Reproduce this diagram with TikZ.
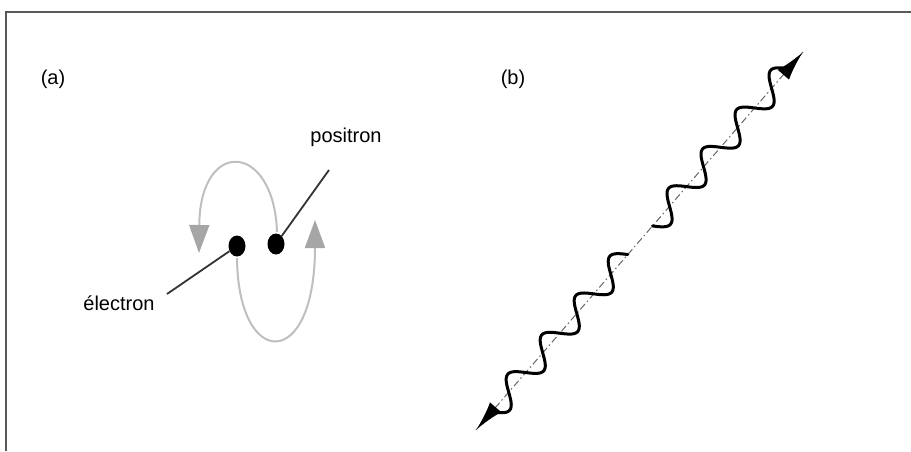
\documentclass[tikz,border=0pt]{standalone}
\usepackage{fontspec}
\setmainfont{Liberation Sans}
\usetikzlibrary{arrows.meta, shapes.geometric, calc, positioning}
\tikzset{
    particle/.style={ellipse, fill=black, inner sep=0pt, minimum width=17pt, minimum height=21pt},
    lbl/.style={inner sep=0pt, font=\fontsize{20}{24}\selectfont},
    pointer/.style={draw=black!80, line width=1.8pt},
    orbitArrow/.style={draw=black!25, line width=2pt, -{Triangle[length=28pt, width=20pt, color=black!35]}},
    photonAxis/.style={draw=black!60, line width=1pt, dash pattern=on 7pt off 3pt on 1.5pt off 3pt},
    photonWave/.style={line width=3pt, line join=round, line cap=round},
    photonTip/.style={line width=3pt, -{Latex[length=30pt, width=15pt]}},
    frameLine/.style={draw=black!65, line width=2pt},
}
% four wavelengths of sine along the photon axis, starting at #1
\newcommand{\drawWave}[1]{
    \begin{scope}[shift={(#1)}, rotate=49.14]
        \draw[photonWave] plot[domain=0:208, samples=160, smooth] (\x, {12.5*sin(\x/52*360)});
    \end{scope}
}

\begin{document}
\begin{tikzpicture}[x=1pt, y=-1pt]
    \useasboundingbox (0,0) rectangle (911,451);

    % frame (top and left edge only)
    \draw[frameLine] (6,451) -- (6,12) -- (911,12);

    % (a) electron and positron
    \node[lbl] (tagA) at (53,79) {(a)};
    \node[particle] (elec) at (237,246) {};
    \node[particle] (posi) at (276,244) {};
    \node[lbl] (lblPosi) at (346,137) {positron};
    \node[lbl] (lblElec) at (119,303) {électron};
    \coordinate (posiEnd) at (329,170);
    \coordinate (elecEnd) at (167,294);
    \draw[pointer] (posi) -- (posiEnd);
    \draw[pointer] (elec) -- (elecEnd);

    \draw[orbitArrow] (277,232) .. controls (274,142) and (200,137) .. (199,253);
    \draw[orbitArrow] (237,258) .. controls (238,370) and (315,372) .. (315,220);

    % (b) photon
    \node[lbl] (tagB) at (513,79) {(b)};
    \coordinate (ph0) at (476,430);
    \coordinate (ph1) at (803,52);
    \draw[photonAxis] (ph0) -- (ph1);
    \coordinate (w1) at ($(ph0)!24pt!(ph1)$);
    \coordinate (w3) at ($(ph1)!230pt!(ph0)$);
    \coordinate (w4) at ($(ph1)!22pt!(ph0)$);
    \drawWave{w1}
    \drawWave{w3}
    \draw[photonTip] (w1) -- (ph0);
    \draw[photonTip] (w4) -- (ph1);

\end{tikzpicture}
\end{document}
